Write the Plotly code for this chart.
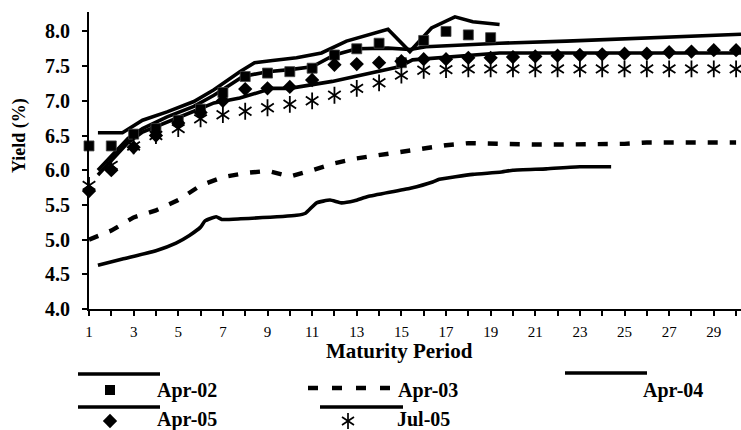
import plotly.graph_objects as go

# ---------------- data ----------------
periods = list(range(1, 31))
x_tick_text = [str(p) if p % 2 == 1 else "" for p in periods]
y_tick_vals = [4.0, 4.5, 5.0, 5.5, 6.0, 6.5, 7.0, 7.5, 8.0]

# marker series
apr02_periods = list(range(1, 20))
apr02_markers = [6.35, 6.35, 6.52, 6.60, 6.72, 6.88, 7.12, 7.35, 7.40, 7.42,
                 7.47, 7.66, 7.75, 7.83, 7.55, 7.87, 8.00, 7.95, 7.91]
apr05_markers = [5.70, 6.00, 6.33, 6.50, 6.68, 6.83, 7.00, 7.17, 7.18, 7.20,
                 7.30, 7.52, 7.53, 7.55, 7.57, 7.60, 7.60, 7.62, 7.62, 7.63,
                 7.64, 7.65, 7.66, 7.67, 7.68, 7.68, 7.70, 7.71, 7.73, 7.73]
jul05_markers = [5.78, 6.07, 6.35, 6.50, 6.60, 6.74, 6.80, 6.85, 6.90, 6.95,
                 7.00, 7.08, 7.18, 7.26, 7.37, 7.44, 7.45, 7.46, 7.46, 7.46,
                 7.46, 7.46, 7.46, 7.46, 7.46, 7.46, 7.46, 7.46, 7.46, 7.46]

# dashed series
apr03_values = [5.00, 5.13, 5.32, 5.42, 5.57, 5.78, 5.90, 5.96, 5.99, 5.91,
                6.00, 6.10, 6.17, 6.22, 6.26, 6.32, 6.36, 6.39, 6.38, 6.37,
                6.37, 6.37, 6.37, 6.37, 6.38, 6.40, 6.40, 6.40, 6.40, 6.40]

# solid lines (drawn slightly offset from the markers in the original)
apr02_line_x = [1.4, 2.5, 3.4, 4.5, 5.7, 6.6, 7.76, 8.42, 9.23, 10.3, 11.42,
                12.54, 14.4, 15.38, 16.35, 17.4, 18.2, 19.4]
apr02_line_y = [6.54, 6.54, 6.72, 6.84, 6.99, 7.16, 7.42, 7.55, 7.58, 7.62, 7.69,
                7.86, 8.03, 7.71, 8.05, 8.21, 8.14, 8.10]

apr04_line_x = [1.4, 2.5, 4.0, 4.9, 5.5, 6.0, 6.2, 6.7, 6.95, 7.8, 10.3, 10.7,
                11.2, 11.8, 12.3, 12.9, 13.5, 15.4, 16.4, 16.7, 18.2, 19.4, 20.0,
                21.5, 23.0, 24.4]
apr04_line_y = [4.63, 4.72, 4.84, 4.95, 5.06, 5.18, 5.27, 5.33, 5.29, 5.30, 5.35, 5.38,
                5.53, 5.57, 5.53, 5.56, 5.62, 5.74, 5.83, 5.87, 5.94, 5.97, 6.00,
                6.02, 6.05, 6.05]

apr05_line_x = [1.4, 2.75, 3.4, 4.5, 5.7, 6.6, 7.9, 9.0, 10.0, 11.0, 12.0, 13.0,
                14.4, 15.4, 16.1, 19.4, 22.4, 25.4, 28.4, 30.22]
apr05_line_y = [6.00, 6.46, 6.60, 6.77, 6.92, 7.08, 7.35, 7.42, 7.45, 7.49, 7.66, 7.75,
                7.76, 7.74, 7.78, 7.83, 7.86, 7.90, 7.94, 7.96]

jul05_line_x = [1.4, 2.75, 3.4, 4.5, 5.7, 6.6, 7.16, 7.76, 9.2, 10.0, 11.9, 14.9,
                15.5, 19.4, 30.22]
jul05_line_y = [5.93, 6.40, 6.55, 6.70, 6.85, 6.97, 7.01, 7.04, 7.18, 7.18, 7.28, 7.49,
                7.59, 7.69, 7.69]

legend_names = ["Apr-02", "Apr-03", "Apr-04", "Apr-05", "Jul-05"]

# ---------------- figure ----------------
BLACK = "#000000"
CLEAR = "rgba(0,0,0,0)"
SERIF = "Liberation Serif, Times New Roman, serif"
FW, FH = 741, 430
L, R, T, B = 89, 741, 12, 309


def pxx(x):
    return x / FW


def pxy(y):
    return 1 - y / FH


fig = go.Figure()

line_w = 3.6
fig.add_trace(go.Scatter(x=periods, y=apr03_values, mode="lines",
                         line=dict(color=BLACK, width=4.4, dash="10px,12px"),
                         name="Apr-03"))
fig.add_trace(go.Scatter(x=apr04_line_x, y=apr04_line_y, mode="lines",
                         line=dict(color=BLACK, width=line_w, shape="spline", smoothing=0.4),
                         name="Apr-04"))
fig.add_trace(go.Scatter(x=apr02_line_x, y=apr02_line_y, mode="lines",
                         line=dict(color=BLACK, width=line_w), name="Apr-02 line"))
fig.add_trace(go.Scatter(x=apr05_line_x, y=apr05_line_y, mode="lines",
                         line=dict(color=BLACK, width=line_w), name="Apr-05 line"))
fig.add_trace(go.Scatter(x=jul05_line_x, y=jul05_line_y, mode="lines",
                         line=dict(color=BLACK, width=line_w), name="Jul-05 line"))

fig.add_trace(go.Scatter(x=apr02_periods, y=apr02_markers, mode="markers", cliponaxis=False,
                         marker=dict(symbol="square", size=10, color=BLACK,
                                     line=dict(color="#444444", width=0.8)),
                         name="Apr-02"))
fig.add_trace(go.Scatter(x=periods, y=apr05_markers, mode="markers", cliponaxis=False,
                         marker=dict(symbol="diamond", size=11, color=BLACK, line=dict(width=0)),
                         name="Apr-05"))
for sym in ["y-up-open", "y-down-open"]:
    fig.add_trace(go.Scatter(x=periods, y=jul05_markers, mode="markers", cliponaxis=False,
                             marker=dict(symbol=sym, size=10.5, color=BLACK,
                                         line=dict(color=BLACK, width=1.8)),
                             name="Jul-05"))

# ---- custom legend (pixel layout of the original) ----
legend_marker_x = [110, 110, 348, 348]
legend_marker_y = [390, 421, 421, 421]
legend_symbols = ["square", "diamond", "y-up-open", "y-down-open"]
for mx, my, sym in zip(legend_marker_x, legend_marker_y, legend_symbols):
    if sym == "square":
        mk = dict(symbol=sym, size=10, color=BLACK)
    elif sym == "diamond":
        mk = dict(symbol=sym, size=11, color=BLACK)
    else:
        mk = dict(symbol=sym, size=10, color=BLACK, line=dict(color=BLACK, width=1.7))
    fig.add_trace(go.Scatter(x=[mx], y=[my], mode="markers", marker=mk, cliponaxis=False,
                             xaxis="x2", yaxis="y2", hoverinfo="skip"))

shapes = []
solid_segments = [(78, 160, 374), (565, 647, 373), (78, 160, 407), (320, 403, 407)]
for x0, x1, y in solid_segments:
    shapes.append(dict(type="line", xref="paper", yref="paper",
                       x0=pxx(x0), x1=pxx(x1), y0=pxy(y), y1=pxy(y),
                       line=dict(color=BLACK, width=3.6)))
shapes.append(dict(type="line", xref="paper", yref="paper",
                   x0=pxx(308), x1=pxx(390), y0=pxy(388), y1=pxy(388),
                   line=dict(color=BLACK, width=4.4, dash="10px,14px")))

annotations = []
legend_text_pos = [(156, 390), (397, 390), (642, 390), (156, 419), (396, 419)]
for name, (tx, ty) in zip(legend_names, legend_text_pos):
    annotations.append(dict(text=name, xref="paper", yref="paper", x=pxx(tx), y=pxy(ty),
                            xanchor="left", yanchor="middle", showarrow=False, borderpad=0,
                            font=dict(family=SERIF, size=20, color=BLACK, weight="bold")))
annotations.append(dict(text="Maturity Period", xref="paper", yref="paper",
                        x=pxx(399), y=pxy(351), xanchor="center", yanchor="middle",
                        showarrow=False, borderpad=0,
                        font=dict(family=SERIF, size=21, color=BLACK, weight="bold")))
annotations.append(dict(text="Yield (%)", xref="paper", yref="paper",
                        x=pxx(20), y=pxy(136), xanchor="center", yanchor="middle",
                        textangle=-90, showarrow=False, borderpad=0,
                        font=dict(family=SERIF, size=18, color=BLACK, weight="bold")))

fig.update_layout(
    width=FW, height=FH,
    margin=dict(l=0, r=0, t=0, b=0, pad=0),
    paper_bgcolor="white", plot_bgcolor=CLEAR,
    showlegend=False,
    shapes=shapes, annotations=annotations,
    xaxis=dict(domain=[L / FW, R / FW], anchor="y", automargin=False,
               range=[1, 30.22], tickmode="array", tickvals=periods, ticktext=x_tick_text,
               showgrid=False, zeroline=False, showline=True, linecolor=BLACK, linewidth=2,
               ticks="outside", ticklen=5, tickwidth=2, tickcolor=BLACK,
               ticklabelstandoff=3,
               tickfont=dict(family=SERIF, size=15, color=BLACK)),
    yaxis=dict(domain=[1 - B / FH, 1 - T / FH], anchor="x", automargin=False,
               range=[4, 8.28], tickmode="array", tickvals=y_tick_vals,
               ticktext=[f"{v:.1f}" for v in y_tick_vals],
               showgrid=False, zeroline=False, showline=True, linecolor=BLACK, linewidth=2,
               ticks="outside", ticklen=5, tickwidth=2, tickcolor=BLACK,
               ticklabelstandoff=8,
               tickfont=dict(family=SERIF, size=20, color=BLACK, weight="bold")),
    xaxis2=dict(domain=[0, 1], anchor="y2", range=[0, FW], visible=False, automargin=False,
                showgrid=False, zeroline=False),
    yaxis2=dict(domain=[0, 1], anchor="x2", range=[FH, 0], visible=False, automargin=False,
                showgrid=False, zeroline=False),
)

fig.write_html("out.html", config={"displayModeBar": False})
